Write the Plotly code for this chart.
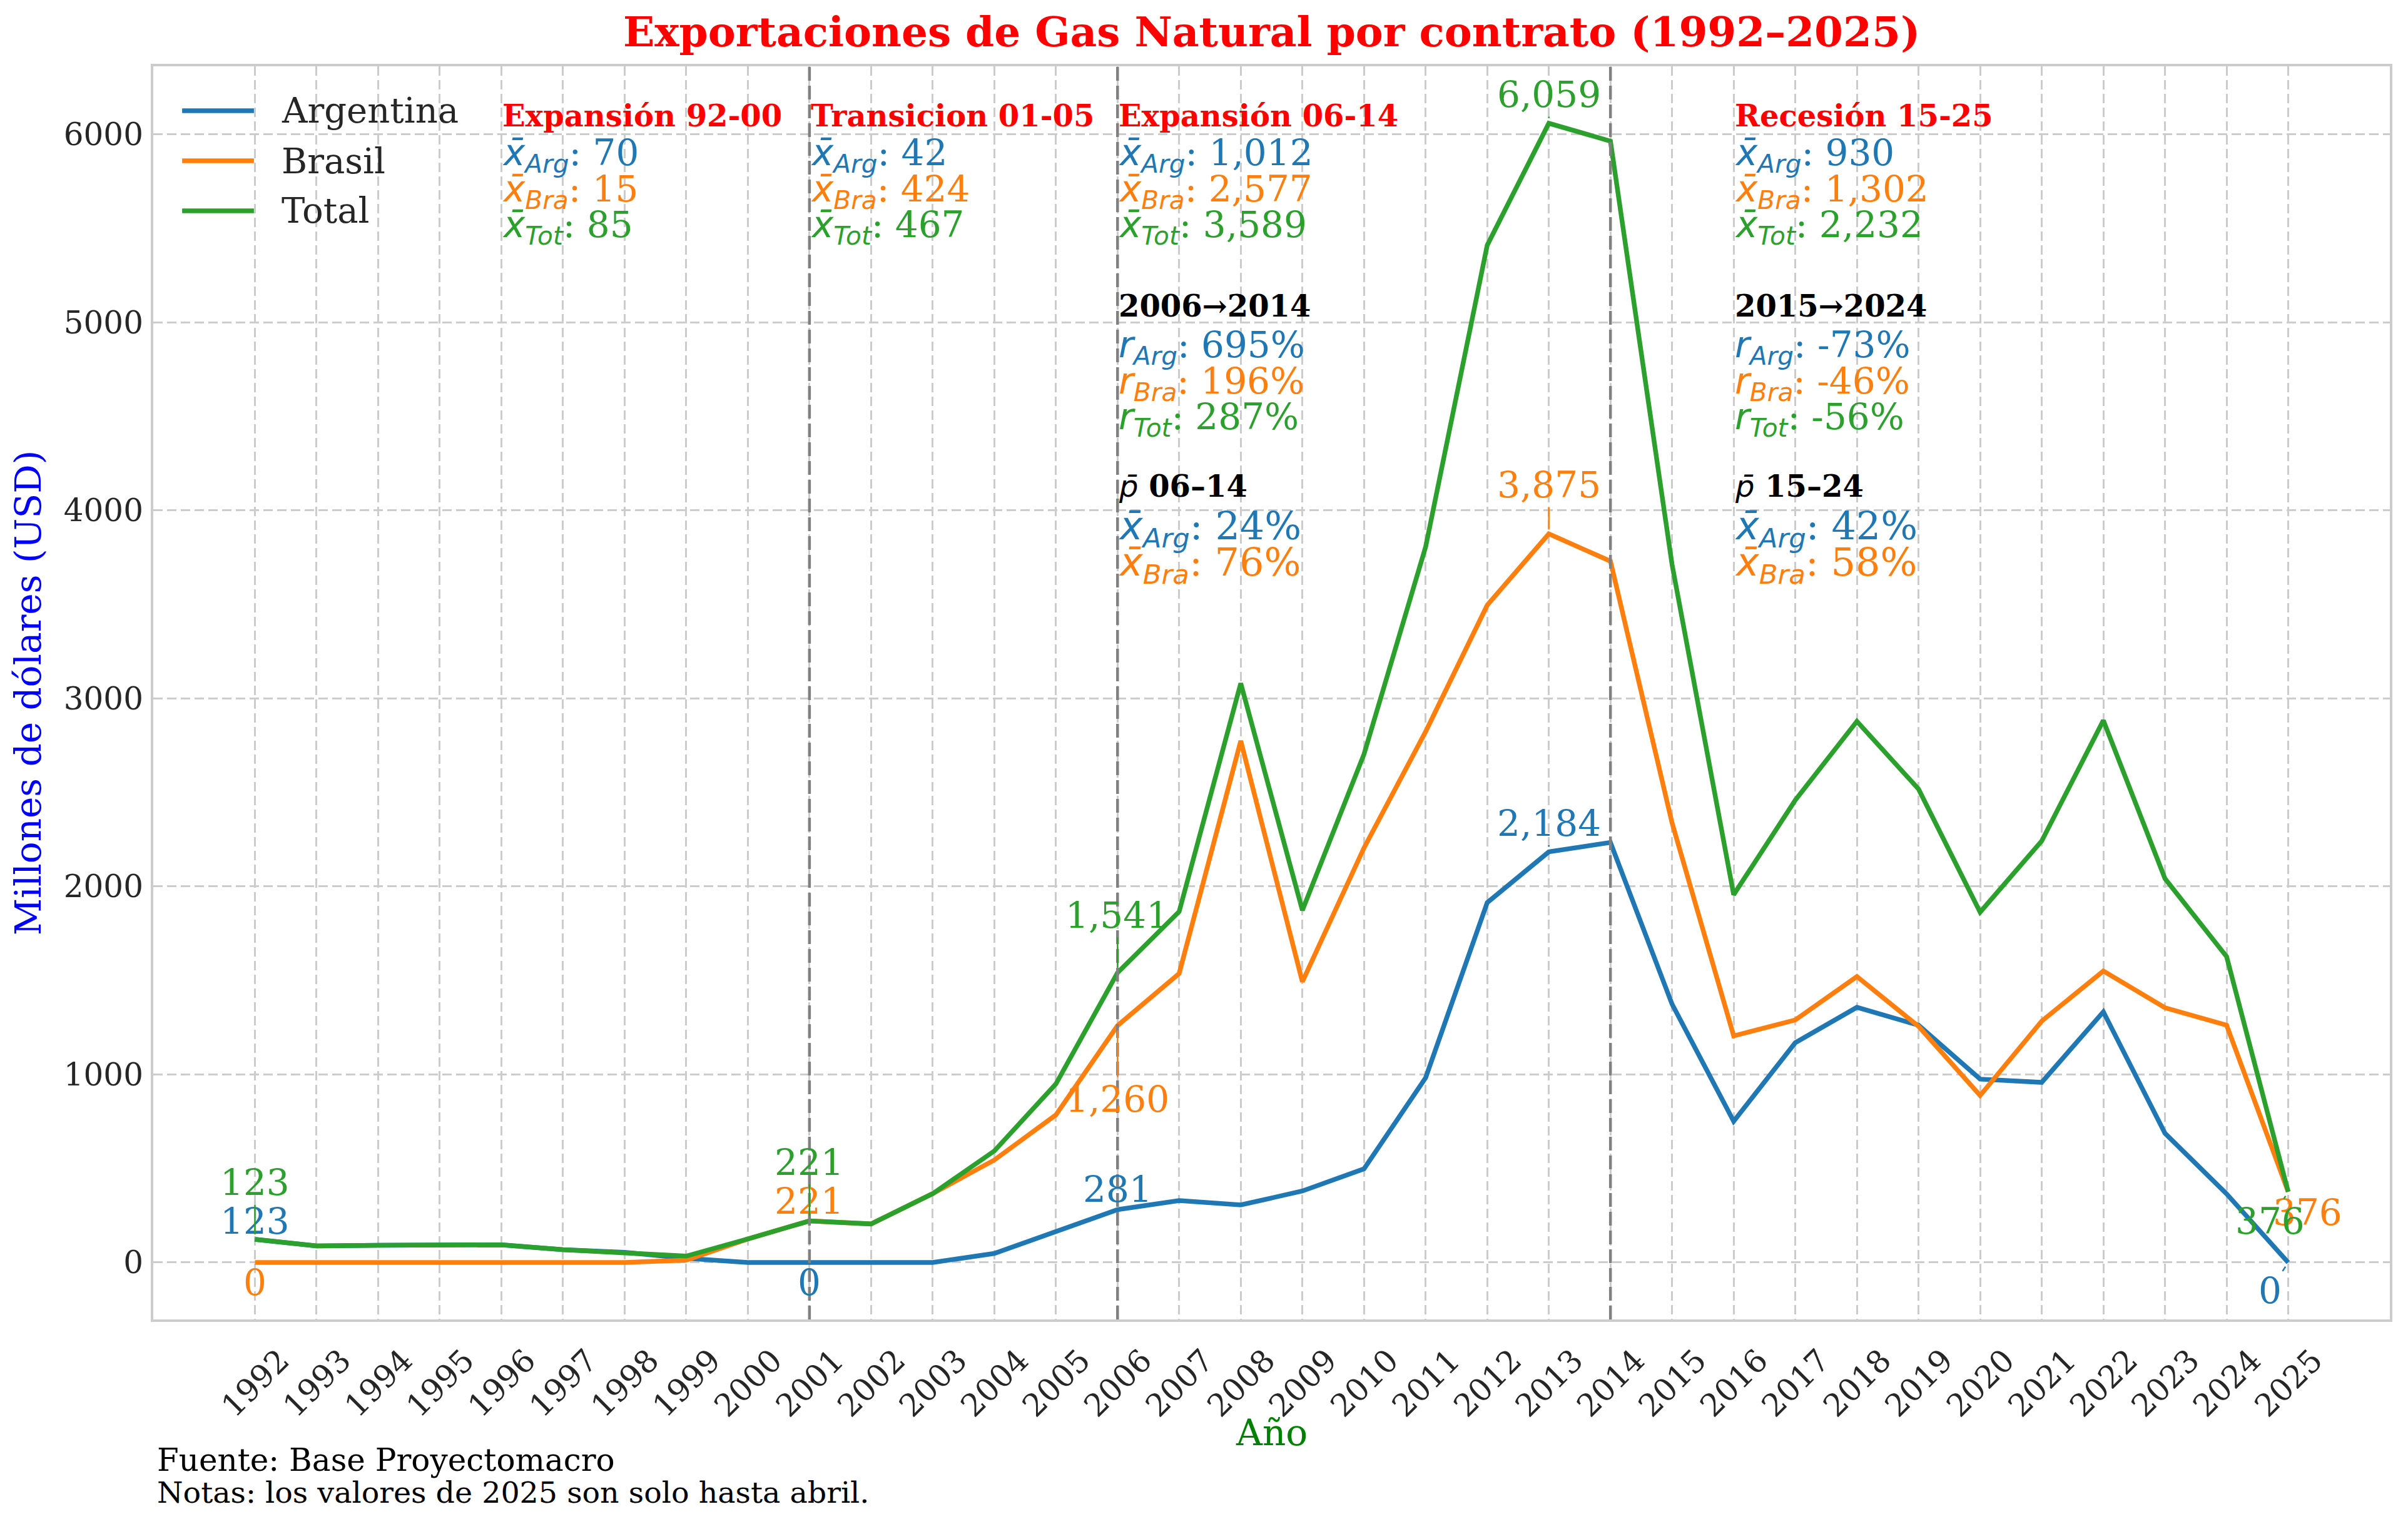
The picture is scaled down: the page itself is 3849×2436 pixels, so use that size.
import plotly.graph_objects as go

# ---- data (millones de USD) ----
years = list(range(1992, 2026))
argentina = [123, 88, 91, 91, 94, 68, 54, 22, 0, 0, 0, 0, 48, 165,
             281, 329, 306, 380, 498, 982, 1914, 2184, 2234,
             1374, 751, 1169, 1357, 1262, 975, 958, 1333, 687, 365, 0]
brasil = [0, 0, 0, 0, 0, 0, 0, 12, 125, 221, 205, 366, 545, 785,
          1260, 1537, 2774, 1493, 2205, 2823, 3496, 3875, 3730,
          2338, 1205, 1290, 1521, 1256, 888, 1284, 1550, 1355, 1262, 376]
total = [123, 88, 91, 91, 94, 68, 54, 34, 125, 221, 205, 366, 593, 950,
         1541, 1866, 3080, 1873, 2703, 3805, 5410, 6059, 5964,
         3712, 1956, 2459, 2878, 2518, 1863, 2242, 2883, 2042, 1627, 376]

series_names = ["Argentina", "Brasil", "Total"]
series_colors = ["#1f77b4", "#ff7f0e", "#2ca02c"]

ytick_vals = [0, 1000, 2000, 3000, 4000, 5000, 6000]
ytick_text = [str(v) for v in ytick_vals]

period_breaks = [2001, 2006, 2014]
period_titles = ["Expansión 92-00", "Transicion 01-05", "Expansión 06-14", "Recesión 15-25"]
period_text_years = [1996, 2001, 2006, 2016]
mean_arg = [70, 42, 1012, 930]
mean_bra = [15, 424, 2577, 1302]
mean_tot = [85, 467, 3589, 2232]

growth_text_years = [2006, 2016]
growth_titles = ["2006→2014", "2015→2024"]
growth_arg = [695, -73]
growth_bra = [196, -46]
growth_tot = [287, -56]
share_titles = ["06–14", "15–24"]
share_arg = [24, 42]
share_bra = [76, 58]

label_years = [1992, 2001, 2006, 2013, 2025]

# ---- style ----
SERIF = "DejaVu Serif"
TXT = "#262626"
W, H = 3849, 2436
ML, MR, MT, MB = 245, 29, 106, 327

# offsets (px) of each value label from its point, per series / label year
label_offsets = {
    "Argentina": [(0, -29), (0, 32), (0, -33), (0, -46), (-29, 45)],
    "Brasil": [(0, 32), (0, -32), (0, 118), (0, -78), (31, 33)],
    "Total": [(0, -91), (0, -94), (0, -92), (0, -46), (-29, 47)],
}


def math(sym, sub=None):
    inner = sym if sub is None else f"{sym}<sub>{sub}</sub>"
    return f"<span style=\"font-family:'DejaVu Sans';font-style:italic\">{inner}</span>"


data = {"Argentina": argentina, "Brasil": brasil, "Total": total}

fig = go.Figure()
for name, color in zip(series_names, series_colors):
    fig.add_trace(go.Scatter(x=years, y=data[name], mode="lines", name=name,
                             line=dict(color=color, width=7.5), showlegend=False))

annotations = []

# value labels
for name, color in zip(series_names, series_colors):
    vals = data[name]
    for yr, (dx, dy) in zip(label_years, label_offsets[name]):
        v = vals[years.index(yr)]
        annotations.append(dict(
            x=yr, y=v, xref="x", yref="y", text=f"{v:,}",
            showarrow=True, arrowhead=0, arrowwidth=2.5, arrowcolor=color,
            ax=dx, ay=dy, standoff=8,
            font=dict(family=SERIF, size=58, color=color)))


def add_text(x, y, text, size, color):
    annotations.append(dict(x=x, y=y, xref="x", yref="y", text=text,
                            showarrow=False, xanchor="left", yanchor="middle",
                            font=dict(family=SERIF, size=size, color=color)))


# period means
for i, yr in enumerate(period_text_years):
    add_text(yr, 6100, f"<b>{period_titles[i]}</b>", 48, "#ff0000")
    add_text(yr, 5891, math("x\u0304", "Arg") + f": {mean_arg[i]:,}", 58, series_colors[0])
    add_text(yr, 5698, math("x\u0304", "Bra") + f": {mean_bra[i]:,}", 58, series_colors[1])
    add_text(yr, 5508, math("x\u0304", "Tot") + f": {mean_tot[i]:,}", 58, series_colors[2])

# growth and shares
for i, yr in enumerate(growth_text_years):
    add_text(yr, 5088, f"<b>{growth_titles[i]}</b>", 48, "#000000")
    add_text(yr, 4868, math("r", "Arg") + f": {growth_arg[i]}%", 58, series_colors[0])
    add_text(yr, 4675, math("r", "Bra") + f": {growth_bra[i]}%", 58, series_colors[1])
    add_text(yr, 4486, math("r", "Tot") + f": {growth_tot[i]}%", 58, series_colors[2])
    add_text(yr, 4129, math("p\u0304") + f"<b> {share_titles[i]}</b>", 48, "#000000")
    add_text(yr, 3903, math("x\u0304", "Arg") + f": {share_arg[i]}%", 62, series_colors[0])
    add_text(yr, 3713, math("x\u0304", "Bra") + f": {share_bra[i]}%", 62, series_colors[1])

# legend (drawn by hand so the line samples are long like the original)
shapes = []
legend_y = [0.9646, 0.9246, 0.8847]
for name, color, ly in zip(series_names, series_colors, legend_y):
    shapes.append(dict(type="line", xref="paper", yref="paper",
                       x0=0.0129, x1=0.045, y0=ly, y1=ly,
                       line=dict(color=color, width=7.5)))
    annotations.append(dict(x=0.0568, y=ly, xref="paper", yref="paper", text=name,
                            showarrow=False, xanchor="left", yanchor="middle",
                            font=dict(family=SERIF, size=56, color=TXT)))

# period separators
for yr in period_breaks:
    shapes.append(dict(type="line", xref="x", yref="paper", x0=yr, x1=yr, y0=0, y1=1,
                       line=dict(color="#808080", width=4.5, dash="22px,8px"),
                       layer="above"))

# x axis title, placed by hand
annotations.append(dict(x=0.5, y=-0.0904, xref="paper", yref="paper", text="Año",
                        showarrow=False, xanchor="center", yanchor="middle",
                        font=dict(family=SERIF, size=58, color="#008000")))

# footer
annotations.append(dict(x=0, y=-0.1123, xref="paper", yref="paper", xshift=4,
                        text="Fuente: Base Proyectomacro", showarrow=False,
                        xanchor="left", yanchor="middle",
                        font=dict(family=SERIF, size=50, color="#000000")))
annotations.append(dict(x=0, y=-0.138, xref="paper", yref="paper", xshift=4,
                        text="Notas: los valores de 2025 son solo hasta abril.",
                        showarrow=False, xanchor="left", yanchor="middle",
                        font=dict(family=SERIF, size=47.5, color="#000000")))

ymax = max(total)
pad = 0.05 * ymax
xpad = 0.05 * (years[-1] - years[0])

grid = dict(showgrid=True, gridcolor="#cccccc", gridwidth=3.3, griddash="15px,7px",
            showline=True, linecolor="#cccccc", linewidth=4, mirror=True,
            zeroline=False, ticks="", automargin=False)

fig.update_layout(
    width=W, height=H,
    margin=dict(l=ML, r=MR, t=MT, b=MB),
    paper_bgcolor="white", plot_bgcolor="white",
    font=dict(family=SERIF, color=TXT),
    title=dict(text="Exportaciones de Gas Natural por contrato (1992–2025)",
               x=0.5, xref="paper", xanchor="center",
               y=1 - 51 / H, yref="container", yanchor="middle",
               font=dict(family=SERIF, size=66, color="#ff0000", weight="bold")),
    xaxis=dict(range=[years[0] - xpad, years[-1] + xpad],
               tickvals=years, ticktext=[str(y) for y in years], tickangle=-45,
               tickfont=dict(family=SERIF, size=50, color=TXT),
               ticklabelshift=40, ticklabelstandoff=12,
               **grid),
    yaxis=dict(range=[-pad, ymax + pad], tickvals=ytick_vals, ticktext=ytick_text,
               tickfont=dict(family=SERIF, size=50, color=TXT),
               ticklabelstandoff=2,
               title=dict(text="Millones de dólares (USD)", standoff=18,
                          font=dict(family=SERIF, size=58, color="#0000ff")),
               **grid),
    annotations=annotations,
    shapes=shapes,
)

fig.write_html("out.html", config={"displayModeBar": False},
               post_script="document.body.style.margin='0';")
